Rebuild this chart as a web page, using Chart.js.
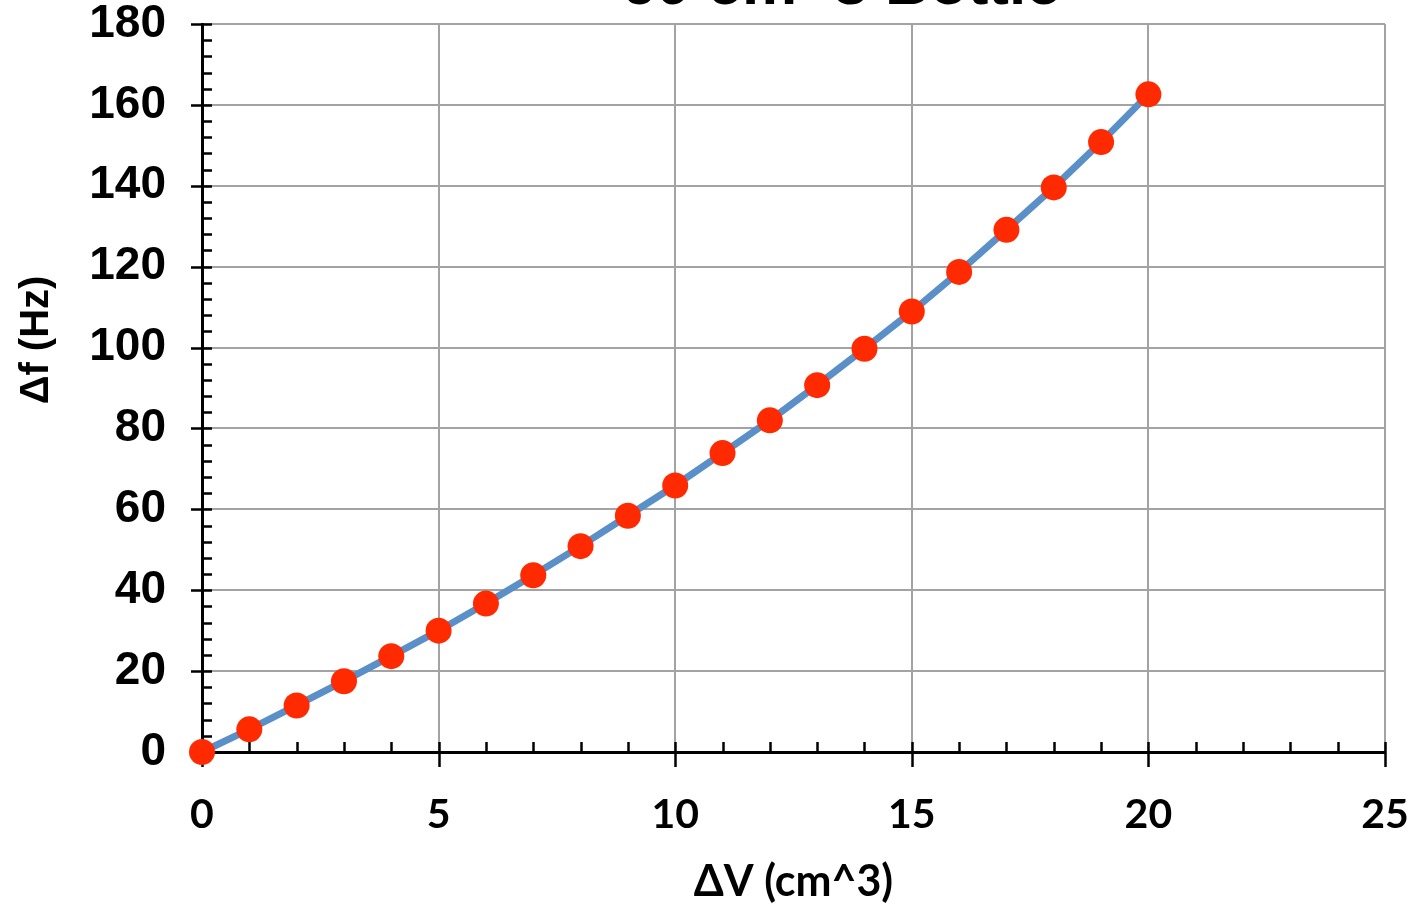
<!DOCTYPE html>
<html>
<head>
<meta charset="utf-8">
<script src="https://cdn.jsdelivr.net/npm/chart.js@4/dist/chart.umd.min.js"></script>
<style>
  html, body { margin: 0; padding: 0; background: #fff; overflow: hidden; }
  #wrap { position: relative; width: 1416px; height: 908px; }
  #title { position: absolute; left: 0; width: 1682px; top: -48px; text-align: center;
           font: bold 62px "Liberation Sans", Arial, sans-serif; line-height: 62px; color: #000; white-space: nowrap; }
  #ytitle { position: absolute; left: 36px; top: 340px; width: 300px; height: 48px; margin-left: -150px; margin-top: -24px;
            transform: rotate(-90deg); text-align: center; line-height: 48px;
            font: bold 40px "Liberation Sans", Arial, sans-serif; color: #000; white-space: nowrap; }
  canvas { position: absolute; left: 0; top: 0; }
</style>
</head>
<body>
<div id="wrap">
  <canvas id="c" width="1416" height="908"></canvas>
  <div id="title"></div>
  <div id="ytitle"></div>
</div>
<script>
// ---- data ----
const chartTitle = "60 cm^3 Bottle";
const xTitle = "ΔV (cm^3)";
const yTitle = "Δf (Hz)";
const deltaV = [0, 1, 2, 3, 4, 5, 6, 7, 8, 9, 10, 11, 12, 13, 14, 15, 16, 17, 18, 19, 20];
const deltaF = [0, 5.6, 11.5, 17.5, 23.7, 30.0, 36.7, 43.7, 50.9, 58.4, 65.9, 73.9, 82.0, 90.7, 99.7, 108.9, 118.7, 129.1, 139.6, 150.8, 162.6];
const xMin = 0, xMax = 25, xStep = 5, xMinorStep = 1;
const yMin = 0, yMax = 180, yStep = 20, yMinorStep = 4;

document.getElementById('title').textContent = chartTitle;
document.getElementById('ytitle').textContent = yTitle;

const points = deltaV.map((v, i) => ({ x: v, y: deltaF[i] }));

const minorTicks = {
  id: 'minorTicks',
  beforeDatasetsDraw(chart) {
    const ctx = chart.ctx;
    const xs = chart.scales.x, ys = chart.scales.y;
    const axisX = xs.getPixelForValue(xMin);
    const axisY = ys.getPixelForValue(yMin);
    ctx.save();
    ctx.strokeStyle = '#000';
    ctx.lineWidth = 2.5;
    ctx.beginPath();
    for (let v = yMin; v <= yMax + 1e-9; v += yMinorStep) {
      const py = Math.round(ys.getPixelForValue(v)) + 0.5;
      const major = Math.abs(v % yStep) < 1e-9;
      ctx.moveTo(major ? axisX - 11 : axisX, py);
      ctx.lineTo(axisX + 10, py);
    }
    for (let v = xMin; v <= xMax + 1e-9; v += xMinorStep) {
      const px = Math.round(xs.getPixelForValue(v)) + 0.5;
      const major = Math.abs(v % xStep) < 1e-9;
      ctx.moveTo(px, axisY - 10);
      ctx.lineTo(px, major ? axisY + 15 : axisY);
    }
    ctx.stroke();
    ctx.restore();
  }
};

new Chart(document.getElementById('c'), {
  type: 'scatter',
  data: {
    datasets: [{
      label: chartTitle,
      data: points,
      showLine: true,
      borderColor: '#5b8fc8',
      borderWidth: 7,
      tension: 0,
      pointRadius: 13,
      pointHoverRadius: 13,
      pointBackgroundColor: '#ff2a00',
      pointBorderWidth: 0,
      clip: false
    }]
  },
  options: {
    responsive: false,
    animation: false,
    events: [],
    layout: { padding: { top: 24, right: 31, left: 0, bottom: 0 } },
    plugins: { legend: { display: false }, tooltip: { enabled: false }, title: { display: false } },
    scales: {
      x: {
        type: 'linear', min: xMin, max: xMax,
        afterFit(s) { s.height = 156; s.paddingLeft = 0; s.paddingRight = 0; },
        ticks: { stepSize: xStep, padding: 38, color: '#000',
                 font: { family: 'Lato, "Open Sans", sans-serif', weight: 'bold', size: 41 } },
        grid: { color: '#a3a3a3', lineWidth: 2, drawTicks: false },
        border: { display: true, color: '#000', width: 3 },
        title: { display: true, text: xTitle, color: '#000', padding: { top: 0, bottom: 0 },
                 font: { family: 'Lato, "Open Sans", sans-serif', weight: 'bold', size: 43 } }
      },
      y: {
        type: 'linear', min: yMin, max: yMax,
        afterFit(s) { s.width = 202; s.paddingTop = 0; s.paddingBottom = 0; },
        ticks: { stepSize: yStep, padding: 36, color: '#000',
                 font: { family: '"Liberation Sans", Arial, sans-serif', weight: 'bold', size: 46 } },
        grid: { color: '#a3a3a3', lineWidth: 2, drawTicks: false },
        border: { display: true, color: '#000', width: 3 },
        title: { display: false }
      }
    }
  },
  plugins: [minorTicks]
});
</script>
</body>
</html>
